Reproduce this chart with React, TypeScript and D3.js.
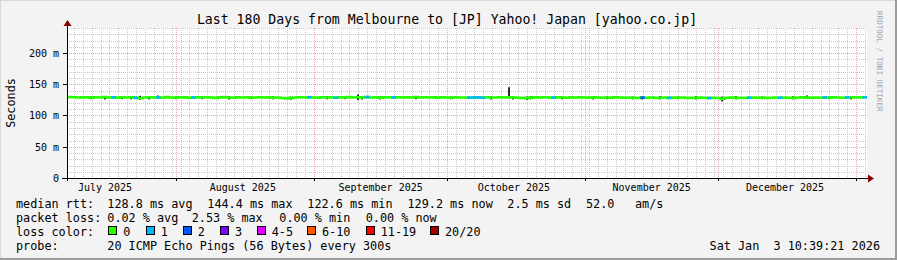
import React from "react";
import * as d3 from "d3";

// ---------- data ----------
const titleText = "Last 180 Days from Melbourne to [JP] Yahoo! Japan [yahoo.co.jp]";
const endTime = Date.UTC(2026, 0, 3, 10, 39, 21);
const spanDays = 180;
const yTicks = [0, 50, 100, 150, 200];
const yTickLabels = ["0", "50 m", "100 m", "150 m", "200 m"];

// daily median rtt (ms), day 0 = start of window
const medianRtt = [
  129.4, 129.1, 128.7, 129.0, 129.3, 128.6, 129.2, 128.9, 129.5, 128.8,
  129.0, 128.4, 129.2, 128.7, 129.1, 128.3, 127.6, 128.9, 129.3, 128.8,
  129.0, 128.5, 129.4, 128.9, 128.6, 129.2, 129.0, 128.4, 128.8, 129.3,
  128.7, 129.1, 128.9, 128.2, 129.0, 129.4, 128.8, 128.5, 129.1, 128.9,
  129.2, 128.6, 128.9, 129.3, 128.7, 129.0, 128.4, 128.8, 127.9, 127.4,
  128.2, 128.9, 129.1, 128.7, 129.3, 128.9, 128.6, 129.2, 128.8, 129.0,
  128.5, 129.1, 128.9, 129.4, 128.7, 129.2, 128.8, 129.5, 128.9, 129.1,
  128.6, 129.0, 129.3, 128.8, 129.2, 128.7, 129.0, 128.9, 129.4, 128.8,
  129.1, 128.7, 129.0, 128.6, 129.2, 128.9, 128.5, 129.1, 128.8, 128.9,
  128.6, 128.8, 129.0, 128.4, 129.2, 128.9, 128.7, 129.1, 128.8, 129.3,
  128.9, 128.5, 128.2, 127.7, 128.6, 129.0, 128.7, 129.2, 128.9, 128.6,
  129.1, 128.8, 128.5, 129.0, 128.7, 129.3, 128.9, 128.6, 129.0, 128.8,
  128.4, 128.9, 128.6, 129.1, 128.7, 128.3, 128.8, 128.5, 128.1, 128.6,
  128.3, 128.7, 128.0, 128.5, 128.8, 128.2, 128.6, 128.4, 128.7, 128.1,
  128.5, 128.2, 128.6, 128.3, 127.9, 128.4, 128.0, 126.8, 128.3, 128.6,
  128.2, 128.5, 128.0, 128.4, 128.7, 128.3, 128.6, 128.1, 128.5, 128.8,
  128.4, 128.9, 128.5, 128.2, 128.7, 129.0, 128.6, 128.3, 128.8, 128.5,
  128.9, 128.6, 129.1, 128.7, 128.4, 128.9, 129.2, 128.8, 129.0, 129.2,
];

// days with packet loss: [day, lost pings]
const lossDays = [
  [10, 1], [15, 1], [20, 1], [28, 1], [54, 1], [60, 1], [67, 1], [73, 1],
  [90, 1], [91, 1], [92, 1], [93, 1], [109, 1], [129, 2], [135, 1], [144, 1],
  [153, 1], [160, 1], [170, 1], [175, 1], [179, 1],
];

// smoke spread: [day, low ms, high ms]
const smoke = [
  [5, 126.0, 130.5], [8, 125.8, 130.8], [12, 126.2, 131.0], [14, 125.9, 130.2],
  [16, 125.2, 131.5], [18, 125.8, 130.5], [20, 126.5, 132.0], [24, 126.0, 130.4],
  [30, 126.1, 130.7], [36, 125.7, 131.0], [41, 126.0, 130.5], [46, 125.9, 130.8],
  [50, 125.3, 130.0], [58, 126.0, 131.2], [62, 126.2, 130.4], [65, 124.6, 133.6],
  [66, 125.6, 131.3], [70, 125.8, 130.6], [78, 126.0, 131.0], [86, 126.0, 130.5],
  [95, 125.7, 130.9], [99, 127.5, 145.2], [100, 125.7, 130.5], [103, 125.0, 130.2],
  [104, 126.0, 131.2], [111, 125.9, 130.6], [118, 125.8, 130.8], [121, 126.1, 131.0],
  [127, 125.9, 130.3], [129, 125.6, 130.8], [133, 125.8, 131.1], [137, 126.0, 130.5],
  [141, 125.7, 130.9], [147, 122.6, 130.2], [150, 125.9, 131.0], [156, 126.1, 130.4],
  [163, 125.8, 130.8], [166, 126.2, 132.0], [171, 126.0, 130.6], [176, 125.9, 131.0],
];

const lossColors = ["#26ff00", "#00b8ff", "#0059ff", "#7e00ff", "#dd00ff", "#ff5500", "#ff0000", "#a10000"];
const lossLabels = ["0", "1", "2", "3", "4-5", "6-10", "11-19", "20/20"];

const legendRtt = ["128.8 ms avg", "144.4 ms max", "122.6 ms min", "129.2 ms now", "2.5 ms sd", "52.0", "am/s"];
const legendLoss = ["0.02 % avg", "2.53 % max", "0.00 % min", "0.00 % now"];
const probeText = "20 ICMP Echo Pings (56 Bytes) every 300s";
const stampText = "Sat Jan\u00a0\u00a03 10:39:21 2026";

// ---------- layout ----------
const W = 897;
const H = 260;
const PL = 67;
const PR = 867;
const PT = 28;
const PB = 178;
const FONT = "'DejaVu Sans Mono', monospace";
const DAY = 86400000;

const rttX = [107.3, 207.3, 307.3, 407.5, 507.3, 586, 635];
const lossX = [107.3, 191.7, 279.3, 365.7];
const swatchX = [108.3, 145.7, 182.7, 220, 256.7, 307, 365.7, 430];

function lossIndex(n: number) {
  if (n <= 0) return 0;
  if (n === 1) return 1;
  if (n === 2) return 2;
  if (n === 3) return 3;
  if (n <= 5) return 4;
  if (n <= 10) return 5;
  if (n <= 19) return 6;
  return 7;
}

export default function App() {
  const start = endTime - spanDays * DAY;
  const x = d3.scaleUtc().domain([new Date(start), new Date(endTime)]).range([PL, PR]);
  const y = d3.scaleLinear().domain([0, 240]).range([PB, PT]);
  const px = (v: number) => Math.round(v) + 0.5;

  // grid
  const minorY = d3.range(10, 241, 10).filter((v) => v % 50 !== 0);
  const majorY = yTicks.filter((v) => v > 0);
  const minorX: number[] = [];
  for (let t = Math.ceil(start / (2 * DAY)) * 2 * DAY; t < endTime; t += 2 * DAY) minorX.push(t);
  const monthStarts = d3.utcMonth.range(new Date(start), new Date(endTime));
  const monthLabels = d3.utcMonth
    .range(d3.utcMonth.floor(new Date(start)), new Date(endTime))
    .map((m) => ({ m, c: x(new Date(+m + 15 * DAY)) }))
    .filter((o) => o.c > PL && o.c < PR);

  const dayT = (d: number) => new Date(start + d * DAY);
  const pts: [number, number][] = medianRtt.map((v, i) => [x(dayT(i)), y(v)]);
  pts.push([x(new Date(endTime)), y(medianRtt[medianRtt.length - 1])]);
  const line = d3.line().curve(d3.curveStepAfter)(pts) || "";

  return (
    <div style={{ position: "absolute", left: 0, top: 0 }}>
      <svg width={W} height={H} viewBox={`0 0 ${W} ${H}`} style={{ display: "block", fontFamily: FONT }}>
        <rect x={0} y={0} width={W} height={H} fill="#f3f3f3" />
        <rect x={PL} y={PT} width={PR - PL} height={PB - PT} fill="#ffffff" />
        {/* frame */}
        <line x1={0} y1={0.5} x2={W} y2={0.5} stroke="#d8d8d8" />
        <line x1={0.5} y1={0} x2={0.5} y2={H} stroke="#d8d8d8" />
        <line x1={0} y1={H - 1} x2={W} y2={H - 1} stroke="#9c9c9c" strokeWidth={2} />
        <line x1={W - 1} y1={0} x2={W - 1} y2={H} stroke="#9c9c9c" strokeWidth={2} />

        {/* minor grid */}
        <g stroke="#c8c8c8" strokeDasharray="1,1" shapeRendering="crispEdges">
          {minorY.map((v) => (
            <line key={"my" + v} x1={PL} x2={PR} y1={px(y(v))} y2={px(y(v))} />
          ))}
          {minorX.map((t) => (
            <line key={"mx" + t} x1={px(x(new Date(t)))} x2={px(x(new Date(t)))} y1={PT} y2={PB} />
          ))}
        </g>
        {/* major grid */}
        <g stroke="#f0a0a0" strokeDasharray="1,1" shapeRendering="crispEdges">
          {majorY.map((v) => (
            <line key={"My" + v} x1={PL} x2={PR} y1={px(y(v))} y2={px(y(v))} />
          ))}
          {monthStarts.map((m) => (
            <line key={"Mx" + +m} x1={px(x(m))} x2={px(x(m))} y1={PT} y2={PB} />
          ))}
        </g>

        {/* smoke */}
        <g fill="#2a2a2a">
          {smoke.map(([d, lo, hi]) => (
            <rect key={"s" + d} x={Math.round(x(dayT(d))) + 1} width={2} y={y(hi)} height={y(lo) - y(hi)} />
          ))}
        </g>

        {/* median */}
        <path d={line} fill="none" stroke={lossColors[0]} strokeWidth={2.6} />
        {lossDays.map(([d, n]) => (
          <line
            key={"l" + d}
            x1={x(dayT(d))}
            x2={x(dayT(d + 1 > spanDays ? spanDays : d + 1))}
            y1={y(medianRtt[d])}
            y2={y(medianRtt[d])}
            stroke={lossColors[lossIndex(n)]}
            strokeWidth={2.6}
          />
        ))}

        {/* axes */}
        <g stroke="#000" shapeRendering="crispEdges">
          <line x1={62} x2={869} y1={PB + 0.5} y2={PB + 0.5} />
          <line x1={PL + 0.5} x2={PL + 0.5} y1={PB + 3} y2={24} />
          {yTicks.map((v) => (
            <line key={"yt" + v} x1={63} x2={PL} y1={px(y(v))} y2={px(y(v))} />
          ))}
          {monthStarts.map((m) => (
            <line key={"xt" + +m} x1={px(x(m))} x2={px(x(m))} y1={PB} y2={PB + 3} />
          ))}
        </g>
        <path d={`M${PL - 3.5},26 L${PL + 4.5},26 L${PL + 0.5},20 Z`} fill="#8b0000" />
        <path d={`M868,174.5 L868,182.5 L874,178.5 Z`} fill="#8b0000" />

        {/* y labels */}
        <g fontSize={10} fill="#000" textAnchor="end">
          {yTicks.map((v, i) => (
            <text key={"yl" + v} x={59} y={y(v) + 3.8}>
              {yTickLabels[i]}
            </text>
          ))}
        </g>
        {/* month labels */}
        <g fontSize={10} fill="#000" textAnchor="middle">
          {monthLabels.map(({ m, c }) => (
            <text key={"ml" + +m} x={c} y={191}>
              {d3.utcFormat("%B %Y")(m)}
            </text>
          ))}
        </g>

        {/* title */}
        <text x={447} y={24} fontSize={13.2} textAnchor="middle" fill="#000">
          {titleText}
        </text>
        <text transform="translate(15,103) rotate(-90)" fontSize={11.8} textAnchor="middle" fill="#000">
          Seconds
        </text>
        <text transform="translate(877,11) rotate(90)" fontSize={7.6} fill="#a4a4a4">
          RRDTOOL / TOBI OETIKER
        </text>

        {/* legend */}
        <g fontSize={11.8} fill="#000">
          <text x={16} y={208.3}>median rtt:</text>
          {legendRtt.map((s, i) => (
            <text key={"r" + i} x={rttX[i]} y={208.3}>{s}</text>
          ))}
          <text x={16} y={222.3}>packet loss:</text>
          {legendLoss.map((s, i) => (
            <text key={"p" + i} x={lossX[i]} y={222.3}>{s}</text>
          ))}
          <text x={16} y={236.3}>loss color:</text>
          {lossLabels.map((s, i) => (
            <g key={"c" + i}>
              <rect x={Math.round(swatchX[i]) + 0.5} y={226.5} width={8} height={8} fill={lossColors[i]} stroke="#000" />
              <text x={swatchX[i] + 15} y={236.3}>{s}</text>
            </g>
          ))}
          <text x={16} y={250.3}>probe:</text>
          <text x={107.3} y={250.3}>{probeText}</text>
          <text x={880} y={250.3} textAnchor="end">{stampText}</text>
        </g>
      </svg>
    </div>
  );
}
